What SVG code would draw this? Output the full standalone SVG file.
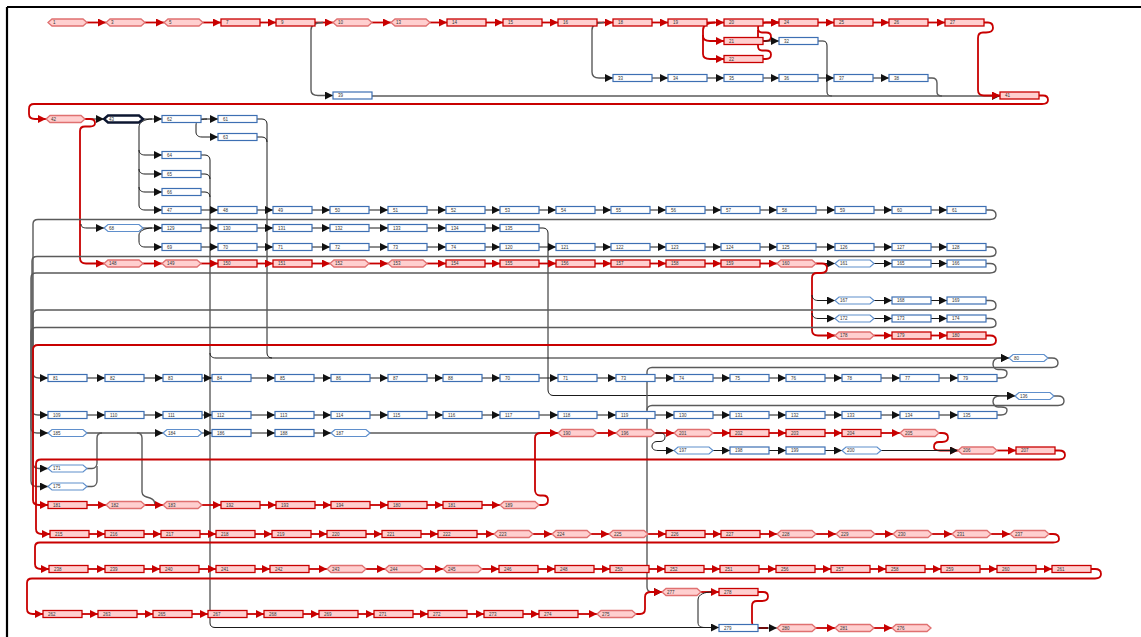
<svg xmlns="http://www.w3.org/2000/svg" width="1141" height="637" viewBox="0 0 1141 637">
<style>
.r{fill:#ffcfcf;stroke:#c80000;stroke-width:1.3}
.rh{fill:#ffcfcf;stroke:#e07070;stroke-width:1.3}
.b{fill:#fff;stroke:#3d6fb3;stroke-width:1.2}
.bh{fill:#fff;stroke:#5f8fcc;stroke-width:1.2}
.k{fill:#fff;stroke:#0c1630;stroke-width:2.4}
text{font-family:"Liberation Sans",Arial,sans-serif;font-size:4.5px;fill:#333}
.er{fill:none;stroke:#c80000;stroke-width:1.8;marker-end:url(#ar)}
.erx{fill:none;stroke:#c80000;stroke-width:1.8}
.ek{fill:none;stroke:#1a1a1a;stroke-width:1;marker-end:url(#ak)}
.ekx{fill:none;stroke:#1a1a1a;stroke-width:1}
.eg{fill:none;stroke:#5a5a5a;stroke-width:1.4;marker-end:url(#ak)}
.egx{fill:none;stroke:#5a5a5a;stroke-width:1.4}
</style>
<defs>
<rect id="R" width="39" height="7"/>
<polygon id="H" points="0,3.5 4,0 35,0 39,3.5 35,7 4,7"/>
<marker id="ak" viewBox="0 0 10 10" refX="10" refY="5" markerWidth="8" markerHeight="8" markerUnits="userSpaceOnUse" orient="auto"><path d="M0,0L10,5L0,10z" fill="#111"/></marker>
<marker id="ar" viewBox="0 0 10 10" refX="10" refY="5" markerWidth="8" markerHeight="8" markerUnits="userSpaceOnUse" orient="auto"><path d="M0,0L10,5L0,10z" fill="#c80000"/></marker>
</defs>
<rect width="1141" height="637" fill="#fff"/>
<path d="M7 7H1141M7 7V637" stroke="#000" stroke-width="2.2" fill="none"/>

<g id="connectors">
<path class="er" d="M87 22.5H106"/><path class="er" d="M145 22.5H164"/><path class="er" d="M203 22.5H221"/><path class="er" d="M260 22.5H276"/><path class="er" d="M315 22.5H333"/><path class="er" d="M372 22.5H391"/><path class="er" d="M430 22.5H447"/><path class="er" d="M486 22.5H503"/><path class="er" d="M542 22.5H558"/><path class="er" d="M597 22.5H613"/><path class="er" d="M652 22.5H668"/><path class="er" d="M707 22.5H724"/><path class="er" d="M763 22.5H779"/><path class="er" d="M818 22.5H834"/><path class="er" d="M873 22.5H889"/><path class="er" d="M928 22.5H945"/>
<path class="eg" d="M323 22.5C316 22.5 311 25 311 30V90C311 94 313 95.5 318 95.5H333"/>
<path class="eg" d="M604 22.5C597 22.5 592 25 592 30V72C592 76 594 78 599 78H613"/>
<path class="er" d="M715 22.5C708 22.5 703 25 703 30V36C703 39 705 41 710 41H724"/>
<path class="er" d="M703 35V54C703 57 705 59 710 59H724"/>
<path class="er" d="M762 41H766C770 41 771 39 771 36.5C771 34 769 32.5 766 32.5H762C759 32.5 758 30 758 28C758 24 761 22.5 766 22.5H779"/>
<path class="erx" d="M762 59H766C770 59 771 57 771 54.5C771 52 769 50.5 766 50.5H762C759 50.5 758 48 758 46V30"/>
<path class="ek" d="M762 41H779"/>
<path class="ek" d="M652 78H668"/><path class="ek" d="M707 78H724"/><path class="ek" d="M763 78H779"/><path class="ek" d="M818 78H834"/><path class="ek" d="M873 78H889"/>
<path class="egx" d="M928 78H932C935 78 937 80 937 83V92C937 95 939 96 942 96"/>
<path class="ekx" d="M818 41H823C826 41 827 43 827 46V92C827 95 829 96 832 96"/>
<path class="eg" d="M372 96H1000"/>
<path class="er" d="M984 22.5H988C992 22.5 993 25 993 28C993 31 990 32.5 986 32.5H983C980 32.5 978 34 978 38V90C978 94 980 95.5 984 95.5H1000"/>
<path class="er" d="M1039 95.5H1043C1047 95.5 1048 98 1048 100C1048 103 1046 104 1042 104H34C31 104 29 106 29 109V114C29 117 31 119 35 119H46"/>
<path class="ek" d="M85 119H104"/>
<path class="ek" d="M143 119H162"/>
<path class="ek" d="M201 119H218"/>
<path class="ek" d="M207 119C200 119 196 121 196 125V132C196 135 198 137 202 137H218"/>
<path class="ekx" d="M257 119H262C265 119 267 121 267 124V353C267 356 269 358 272 358"/>
<path class="ekx" d="M257 137H262C265 137 267 139 267 142"/>
<path class="ek" d="M152 119C145 119 139 122 139 127V205C139 208 141 210 145 210H162"/>
<path class="ek" d="M139 150C139 153 141 155 145 155H162"/>
<path class="ek" d="M139 169C139 172 141 174 145 174H162"/>
<path class="ek" d="M139 187C139 190 141 192 145 192H162"/>
<path class="ekx" d="M201 155H205C208 155 210 157 210 160V623C210 626 212 627.5 215 627.5"/>
<path class="ekx" d="M201 174H205C208 174 210 176 210 179"/>
<path class="ekx" d="M201 192H205C208 192 210 194 210 197"/>
<path class="ek" d="M210 353C210 356 212 358 216 358H1009"/>
<path class="ek" d="M215 627.5H719"/>
<path class="er" d="M85 119H90C94 119 95 121 95 123C95 125 93 126.5 90 126.5H85C82 126.5 80 128 80 131V258C80 261 82 263.5 86 263.5H104"/>
<path class="ek" d="M201 210H218"/><path class="ek" d="M257 210H273"/><path class="ek" d="M312 210H330"/><path class="ek" d="M369 210H388"/><path class="ek" d="M427 210H446"/><path class="ek" d="M485 210H500"/><path class="ek" d="M539 210H556"/><path class="ek" d="M595 210H611"/><path class="ek" d="M650 210H666"/><path class="ek" d="M705 210H721"/><path class="ek" d="M760 210H777"/><path class="ek" d="M816 210H835"/><path class="ek" d="M874 210H892"/><path class="ek" d="M931 210H947"/>
<path class="eg" d="M986 210H990C994 210 996 212 996 215C996 218 994 219.5 990 219.5H38C35 219.5 33 221 33 224V373C33 376 35 378 39 378H48"/>
<path class="ek" d="M81 224C81 227 83 228 87 228H104"/>
<path class="ek" d="M143 228H162"/>
<path class="ek" d="M152 228C145 228 139 231 139 235V241C139 245 141 247 145 247H162"/>
<path class="ek" d="M201 228H218"/><path class="ek" d="M257 228H273"/><path class="ek" d="M312 228H330"/><path class="ek" d="M369 228H388"/><path class="ek" d="M427 228H446"/><path class="ek" d="M485 228H500"/>
<path class="ek" d="M539 228H543C546 228 548 230 548 233V390C548 393 550 395.5 553 395.5H1015"/>
<path class="ek" d="M201 247H218"/><path class="ek" d="M257 247H273"/><path class="ek" d="M312 247H330"/><path class="ek" d="M369 247H388"/><path class="ek" d="M427 247H446"/><path class="ek" d="M485 247H500"/><path class="ek" d="M539 247H556"/><path class="ek" d="M595 247H611"/><path class="ek" d="M650 247H666"/><path class="ek" d="M705 247H721"/><path class="ek" d="M760 247H777"/><path class="ek" d="M816 247H835"/><path class="ek" d="M874 247H892"/><path class="ek" d="M931 247H947"/>
<path class="eg" d="M986 247H990C994 247 996 249 996 252C996 255 994 256.5 990 256.5H37C34 256.5 32 258 32 261V410C32 413 34 415 38 415H48"/>
<path class="er" d="M143 263.5H162"/><path class="er" d="M201 263.5H218"/><path class="er" d="M257 263.5H273"/><path class="er" d="M312 263.5H330"/><path class="er" d="M369 263.5H388"/><path class="er" d="M427 263.5H446"/><path class="er" d="M485 263.5H500"/><path class="er" d="M539 263.5H556"/><path class="er" d="M595 263.5H611"/><path class="er" d="M650 263.5H666"/><path class="er" d="M705 263.5H721"/><path class="er" d="M760 263.5H777"/>
<path class="ek" d="M816 263.5H835"/><path class="ek" d="M874 263.5H892"/><path class="ek" d="M931 263.5H947"/>
<path class="eg" d="M986 263.5H990C994 263.5 996 265.5 996 268.5C996 271.5 994 273 990 273H36C33 273 31 275 31 278V428C31 431 33 433 37 433H48"/>
<path class="er" d="M816 263.5H822C826 263.5 827 266 827 268C827 271 825 273 821 273H817C814 273 812 275 812 278V330C812 333 814 335.5 818 335.5H835"/>
<path class="ek" d="M812 295C812 298 814 300.5 818 300.5H835"/>
<path class="ek" d="M812 313C812 316 814 318.5 818 318.5H835"/>
<path class="ek" d="M874 300.5H892"/><path class="ek" d="M931 300.5H947"/>
<path class="eg" d="M986 300.5H990C994 300.5 996 302.5 996 305.5C996 308.5 994 310 990 310H38C35 310 33 312 33 315V463C33 466 35 468.5 39 468.5H48"/>
<path class="ek" d="M874 318.5H892"/><path class="ek" d="M931 318.5H947"/>
<path class="eg" d="M986 318.5H990C994 318.5 996 320.5 996 323.5C996 326.5 994 327.5 990 327.5H36C33 327.5 31 329 31 332V481C31 484 33 486.5 37 486.5H48"/>
<path class="er" d="M874 335.5H892"/><path class="er" d="M931 335.5H947"/>
<path class="er" d="M986 335.5H990C994 335.5 996 337.5 996 340.5C996 343.5 994 345 990 345H38C35 345 33 347 33 350V500C33 503 35 505 39 505H48"/>
<path class="egx" d="M1048 358H1052C1056 358 1058 360 1058 363C1058 366 1056 367.5 1052 367.5H652C649 367.5 647 369.5 647 372V587C647 590 649 592 652 592"/>
<path class="ek" d="M652 592H662"/>
<path class="egx" d="M1054 396H1058C1062 396 1064 398 1064 401C1064 404 1062 405.5 1058 405.5H652C649 405.5 647 407.5 647 410"/>
<path class="ek" d="M87 378H105"/><path class="ek" d="M144 378H163"/><path class="ek" d="M202 378H212"/><path class="ek" d="M251 378H275"/><path class="ek" d="M314 378H331"/><path class="ek" d="M370 378H388"/><path class="ek" d="M427 378H443"/><path class="ek" d="M482 378H500"/><path class="ek" d="M539 378H558"/><path class="ek" d="M597 378H616"/><path class="ek" d="M655 378H674"/><path class="ek" d="M713 378H730"/><path class="ek" d="M769 378H786"/><path class="ek" d="M825 378H842"/><path class="ek" d="M881 378H900"/><path class="ek" d="M939 378H958"/>
<path class="eg" d="M997 378H1001C1005 378 1007 376 1007 373C1007 371 1005 369.5 1001 369.5H998C995 369.5 993 367 993 364C993 360 995 358 1000 358H1009"/>
<path class="ek" d="M87 415H105"/><path class="ek" d="M144 415H163"/><path class="ek" d="M202 415H212"/><path class="ek" d="M251 415H275"/><path class="ek" d="M314 415H331"/><path class="ek" d="M370 415H388"/><path class="ek" d="M427 415H443"/><path class="ek" d="M482 415H500"/><path class="ek" d="M539 415H558"/><path class="ek" d="M597 415H616"/><path class="ek" d="M655 415H674"/><path class="ek" d="M713 415H730"/><path class="ek" d="M769 415H786"/><path class="ek" d="M825 415H842"/><path class="ek" d="M881 415H900"/><path class="ek" d="M939 415H958"/>
<path class="eg" d="M997 415H1001C1005 415 1007 413 1007 410C1007 408 1005 407 1001 407H998C995 407 993 404 993 401.5C993 398 995 396 1000 396H1015"/>
<path class="eg" d="M87 433H163"/>
<path class="egx" d="M87 468.5H92C95 468.5 97 466 97 463V438C97 435 99 433 102 433"/>
<path class="egx" d="M87 486.5H92C95 486.5 97 484 97 481V466"/>
<path class="egx" d="M137 433C140 433 142 435 142 438V492C142 496 146 497 150 498C153 499 155 501 155 505"/>
<path class="ek" d="M202 433H212"/><path class="ek" d="M251 433H275"/><path class="ek" d="M314 433H331"/>
<path class="egx" d="M370 433H540"/>
<path class="er" d="M539 505H543C547 505 548 503 548 500C548 497 546 495.5 543 495.5H540C537 495.5 535 493 535 490V438C535 435 537 433 541 433H558"/>
<path class="er" d="M597 433H616"/><path class="er" d="M655 433H674"/><path class="er" d="M713 433H730"/><path class="er" d="M769 433H786"/><path class="er" d="M825 433H842"/><path class="er" d="M881 433H900"/>
<path class="er" d="M938 433H942C946 433 948 435 948 437.5C948 440.5 946 442 942 442H939C936 442 934 444 934 447C934 449 936 450.5 940 450.5H958"/>
<path class="ek" d="M655 433H660C664 433 665 435 665 437C665 440 663 441.5 660 441.5H657C654 441.5 652 443.5 652 446C652 449 654 450.5 658 450.5H674"/>
<path class="ek" d="M713 450.5H730"/><path class="ek" d="M769 450.5H786"/><path class="ek" d="M825 450.5H842"/>
<path class="ek" d="M881 450.5H958"/>
<path class="er" d="M997 450.5H1016"/>
<path class="er" d="M1055 450.5H1059C1063 450.5 1065 452.5 1065 455C1065 458 1063 459.5 1059 459.5H41C38 459.5 36 461 36 464V529C36 532 38 534 42 534H50"/>
<path class="er" d="M87 505H106"/><path class="er" d="M145 505H163"/><path class="er" d="M202 505H221"/><path class="er" d="M260 505H276"/><path class="er" d="M315 505H331"/><path class="er" d="M370 505H388"/><path class="er" d="M427 505H443"/><path class="er" d="M482 505H500"/>
<path class="er" d="M89 534H105"/><path class="er" d="M144 534H161"/><path class="er" d="M200 534H216"/><path class="er" d="M255 534H272"/><path class="er" d="M311 534H327"/><path class="er" d="M366 534H382"/><path class="er" d="M421 534H438"/><path class="er" d="M477 534H494"/><path class="er" d="M533 534H552"/><path class="er" d="M591 534H609"/><path class="er" d="M648 534H666"/><path class="er" d="M705 534H721"/><path class="er" d="M760 534H777"/><path class="er" d="M816 534H836"/><path class="er" d="M875 534H893"/><path class="er" d="M932 534H952"/><path class="er" d="M991 534H1010"/>
<path class="er" d="M1049 534H1053C1057 534 1059 536 1059 539C1059 541 1057 542.5 1053 542.5H40C37 542.5 35 544 35 547V564C35 567 37 569 41 569H49"/>
<path class="er" d="M88 569H105"/><path class="er" d="M144 569H160"/><path class="er" d="M199 569H216"/><path class="er" d="M255 569H270"/><path class="er" d="M309 569H327"/><path class="er" d="M366 569H385"/><path class="er" d="M424 569H443"/><path class="er" d="M482 569H499"/><path class="er" d="M538 569H555"/><path class="er" d="M594 569H610"/><path class="er" d="M649 569H665"/><path class="er" d="M704 569H720"/><path class="er" d="M759 569H776"/><path class="er" d="M815 569H831"/><path class="er" d="M870 569H886"/><path class="er" d="M925 569H941"/><path class="er" d="M980 569H997"/><path class="er" d="M1036 569H1052"/>
<path class="er" d="M1091 569H1095C1099 569 1101 571 1101 574C1101 577 1099 578.5 1095 578.5H32C29 578.5 27 580 27 583V609C27 612 29 614 33 614H43"/>
<path class="er" d="M82 614H98"/><path class="er" d="M137 614H153"/><path class="er" d="M192 614H208"/><path class="er" d="M247 614H264"/><path class="er" d="M303 614H319"/><path class="er" d="M358 614H374"/><path class="er" d="M413 614H428"/><path class="er" d="M467 614H484"/><path class="er" d="M523 614H539"/><path class="er" d="M578 614H597"/>
<path class="er" d="M636 614H640C643 614 645 612 645 609V597C645 594 647 592 651 592H662"/>
<path class="er" d="M701 592H719"/>
<path class="ekx" d="M712 592C705 592 698 594 698 600V622C698 626 700 627.5 705 627.5"/>
<path class="erx" d="M758 592H763C767 592 768 594 768 596.5C768 599.5 766 601 762 601H757C754 601 752 603 752 606V622C752 625 754 628 758 628H768"/>
<path class="ek" d="M758 628H777"/>
<path class="er" d="M816 628H835"/><path class="er" d="M874 628H892"/>
</g>

<g id="n1"><use href="#H" class="rh" x="48" y="19"/><text x="53" y="24">1</text></g>
<g id="n3"><use href="#H" class="rh" x="106" y="19"/><text x="111" y="24">3</text></g>
<g id="n5"><use href="#H" class="rh" x="164" y="19"/><text x="169" y="24">5</text></g>
<g id="n7"><use href="#R" class="r" x="221" y="19"/><text x="226" y="24">7</text></g>
<g id="n9"><use href="#R" class="r" x="276" y="19"/><text x="281" y="24">9</text></g>
<g id="n10"><use href="#H" class="rh" x="333" y="19"/><text x="338" y="24">10</text></g>
<g id="n13"><use href="#H" class="rh" x="391" y="19"/><text x="396" y="24">13</text></g>
<g id="n14"><use href="#R" class="r" x="447" y="19"/><text x="452" y="24">14</text></g>
<g id="n15"><use href="#R" class="r" x="503" y="19"/><text x="508" y="24">15</text></g>
<g id="n16"><use href="#R" class="r" x="558" y="19"/><text x="563" y="24">16</text></g>
<g id="n18"><use href="#R" class="r" x="613" y="19"/><text x="618" y="24">18</text></g>
<g id="n19"><use href="#R" class="r" x="668" y="19"/><text x="673" y="24">19</text></g>
<g id="n20"><use href="#R" class="r" x="724" y="19"/><text x="729" y="24">20</text></g>
<g id="n24"><use href="#R" class="r" x="779" y="19"/><text x="784" y="24">24</text></g>
<g id="n25"><use href="#R" class="r" x="834" y="19"/><text x="839" y="24">25</text></g>
<g id="n26"><use href="#R" class="r" x="889" y="19"/><text x="894" y="24">26</text></g>
<g id="n27"><use href="#R" class="r" x="945" y="19"/><text x="950" y="24">27</text></g>
<g id="n21"><use href="#R" class="r" x="724" y="37.5"/><text x="729" y="42.5">21</text></g>
<g id="n32"><use href="#R" class="b" x="779" y="37.5"/><text x="784" y="42.5">32</text></g>
<g id="n22"><use href="#R" class="r" x="724" y="55.5"/><text x="729" y="60.5">22</text></g>
<g id="n33"><use href="#R" class="b" x="613" y="74.5"/><text x="618" y="79.5">33</text></g>
<g id="n34"><use href="#R" class="b" x="668" y="74.5"/><text x="673" y="79.5">34</text></g>
<g id="n35"><use href="#R" class="b" x="724" y="74.5"/><text x="729" y="79.5">35</text></g>
<g id="n36"><use href="#R" class="b" x="779" y="74.5"/><text x="784" y="79.5">36</text></g>
<g id="n37"><use href="#R" class="b" x="834" y="74.5"/><text x="839" y="79.5">37</text></g>
<g id="n38"><use href="#R" class="b" x="889" y="74.5"/><text x="894" y="79.5">38</text></g>
<g id="n39"><use href="#R" class="b" x="333" y="92"/><text x="338" y="97">39</text></g>
<g id="n41"><use href="#R" class="r" x="1000" y="92"/><text x="1005" y="97">41</text></g>
<g id="n42"><use href="#H" class="rh" x="46" y="115.5"/><text x="51" y="120.5">42</text></g>
<g id="n43"><use href="#H" class="k" x="104" y="115.5"/><text x="109" y="120.5">43</text></g>
<g id="n62"><use href="#R" class="b" x="162" y="115.5"/><text x="167" y="120.5">62</text></g>
<g id="n61"><use href="#R" class="b" x="218" y="115.5"/><text x="223" y="120.5">61</text></g>
<g id="n63"><use href="#R" class="b" x="218" y="133.5"/><text x="223" y="138.5">63</text></g>
<g id="n64"><use href="#R" class="b" x="162" y="151.5"/><text x="167" y="156.5">64</text></g>
<g id="n65"><use href="#R" class="b" x="162" y="170.5"/><text x="167" y="175.5">65</text></g>
<g id="n66"><use href="#R" class="b" x="162" y="188.5"/><text x="167" y="193.5">66</text></g>
<g id="n47"><use href="#R" class="b" x="162" y="206.5"/><text x="167" y="211.5">47</text></g>
<g id="n48"><use href="#R" class="b" x="218" y="206.5"/><text x="223" y="211.5">48</text></g>
<g id="n49"><use href="#R" class="b" x="273" y="206.5"/><text x="278" y="211.5">49</text></g>
<g id="n50"><use href="#R" class="b" x="330" y="206.5"/><text x="335" y="211.5">50</text></g>
<g id="n51"><use href="#R" class="b" x="388" y="206.5"/><text x="393" y="211.5">51</text></g>
<g id="n52"><use href="#R" class="b" x="446" y="206.5"/><text x="451" y="211.5">52</text></g>
<g id="n53"><use href="#R" class="b" x="500" y="206.5"/><text x="505" y="211.5">53</text></g>
<g id="n54"><use href="#R" class="b" x="556" y="206.5"/><text x="561" y="211.5">54</text></g>
<g id="n55"><use href="#R" class="b" x="611" y="206.5"/><text x="616" y="211.5">55</text></g>
<g id="n56"><use href="#R" class="b" x="666" y="206.5"/><text x="671" y="211.5">56</text></g>
<g id="n57"><use href="#R" class="b" x="721" y="206.5"/><text x="726" y="211.5">57</text></g>
<g id="n58"><use href="#R" class="b" x="777" y="206.5"/><text x="782" y="211.5">58</text></g>
<g id="n59"><use href="#R" class="b" x="835" y="206.5"/><text x="840" y="211.5">59</text></g>
<g id="n60"><use href="#R" class="b" x="892" y="206.5"/><text x="897" y="211.5">60</text></g>
<g id="n67"><use href="#R" class="b" x="947" y="206.5"/><text x="952" y="211.5">61</text></g>
<g id="n68"><use href="#H" class="bh" x="104" y="224.5"/><text x="109" y="229.5">68</text></g>
<g id="n129"><use href="#R" class="b" x="162" y="224.5"/><text x="167" y="229.5">129</text></g>
<g id="n130"><use href="#R" class="b" x="218" y="224.5"/><text x="223" y="229.5">130</text></g>
<g id="n131"><use href="#R" class="b" x="273" y="224.5"/><text x="278" y="229.5">131</text></g>
<g id="n132"><use href="#R" class="b" x="330" y="224.5"/><text x="335" y="229.5">132</text></g>
<g id="n133"><use href="#R" class="b" x="388" y="224.5"/><text x="393" y="229.5">133</text></g>
<g id="n134"><use href="#R" class="b" x="446" y="224.5"/><text x="451" y="229.5">134</text></g>
<g id="n135"><use href="#R" class="b" x="500" y="224.5"/><text x="505" y="229.5">135</text></g>
<g id="n69"><use href="#R" class="b" x="162" y="243.5"/><text x="167" y="248.5">69</text></g>
<g id="n70"><use href="#R" class="b" x="218" y="243.5"/><text x="223" y="248.5">70</text></g>
<g id="n71"><use href="#R" class="b" x="273" y="243.5"/><text x="278" y="248.5">71</text></g>
<g id="n72"><use href="#R" class="b" x="330" y="243.5"/><text x="335" y="248.5">72</text></g>
<g id="n73"><use href="#R" class="b" x="388" y="243.5"/><text x="393" y="248.5">73</text></g>
<g id="n74"><use href="#R" class="b" x="446" y="243.5"/><text x="451" y="248.5">74</text></g>
<g id="n75"><use href="#R" class="b" x="500" y="243.5"/><text x="505" y="248.5">120</text></g>
<g id="n121"><use href="#R" class="b" x="556" y="243.5"/><text x="561" y="248.5">121</text></g>
<g id="n122"><use href="#R" class="b" x="611" y="243.5"/><text x="616" y="248.5">122</text></g>
<g id="n123"><use href="#R" class="b" x="666" y="243.5"/><text x="671" y="248.5">123</text></g>
<g id="n124"><use href="#R" class="b" x="721" y="243.5"/><text x="726" y="248.5">124</text></g>
<g id="n125"><use href="#R" class="b" x="777" y="243.5"/><text x="782" y="248.5">125</text></g>
<g id="n126"><use href="#R" class="b" x="835" y="243.5"/><text x="840" y="248.5">126</text></g>
<g id="n127"><use href="#R" class="b" x="892" y="243.5"/><text x="897" y="248.5">127</text></g>
<g id="n128"><use href="#R" class="b" x="947" y="243.5"/><text x="952" y="248.5">128</text></g>
<g id="n148"><use href="#H" class="rh" x="104" y="260"/><text x="109" y="265">148</text></g>
<g id="n149"><use href="#H" class="rh" x="162" y="260"/><text x="167" y="265">149</text></g>
<g id="n150"><use href="#R" class="r" x="218" y="260"/><text x="223" y="265">150</text></g>
<g id="n151"><use href="#R" class="r" x="273" y="260"/><text x="278" y="265">151</text></g>
<g id="n152"><use href="#H" class="rh" x="330" y="260"/><text x="335" y="265">152</text></g>
<g id="n153"><use href="#H" class="rh" x="388" y="260"/><text x="393" y="265">153</text></g>
<g id="n154"><use href="#R" class="r" x="446" y="260"/><text x="451" y="265">154</text></g>
<g id="n155"><use href="#R" class="r" x="500" y="260"/><text x="505" y="265">155</text></g>
<g id="n156"><use href="#R" class="r" x="556" y="260"/><text x="561" y="265">156</text></g>
<g id="n157"><use href="#R" class="r" x="611" y="260"/><text x="616" y="265">157</text></g>
<g id="n158"><use href="#R" class="r" x="666" y="260"/><text x="671" y="265">158</text></g>
<g id="n159"><use href="#R" class="r" x="721" y="260"/><text x="726" y="265">159</text></g>
<g id="n160"><use href="#H" class="rh" x="777" y="260"/><text x="782" y="265">160</text></g>
<g id="n161"><use href="#H" class="bh" x="835" y="260"/><text x="840" y="265">161</text></g>
<g id="n165"><use href="#R" class="b" x="892" y="260"/><text x="897" y="265">165</text></g>
<g id="n166"><use href="#R" class="b" x="947" y="260"/><text x="952" y="265">166</text></g>
<g id="n167"><use href="#H" class="bh" x="835" y="297"/><text x="840" y="302">167</text></g>
<g id="n168"><use href="#R" class="b" x="892" y="297"/><text x="897" y="302">168</text></g>
<g id="n169"><use href="#R" class="b" x="947" y="297"/><text x="952" y="302">169</text></g>
<g id="n172"><use href="#H" class="bh" x="835" y="315"/><text x="840" y="320">172</text></g>
<g id="n173"><use href="#R" class="b" x="892" y="315"/><text x="897" y="320">173</text></g>
<g id="n174"><use href="#R" class="b" x="947" y="315"/><text x="952" y="320">174</text></g>
<g id="n178"><use href="#H" class="rh" x="835" y="332"/><text x="840" y="337">178</text></g>
<g id="n179"><use href="#R" class="r" x="892" y="332"/><text x="897" y="337">179</text></g>
<g id="n180"><use href="#R" class="r" x="947" y="332"/><text x="952" y="337">180</text></g>
<g id="n80"><use href="#H" class="bh" x="1009" y="354.5"/><text x="1014" y="359.5">80</text></g>
<g id="n81"><use href="#R" class="b" x="48" y="374.5"/><text x="53" y="379.5">81</text></g>
<g id="n82"><use href="#R" class="b" x="105" y="374.5"/><text x="110" y="379.5">82</text></g>
<g id="n83"><use href="#R" class="b" x="163" y="374.5"/><text x="168" y="379.5">83</text></g>
<g id="n84"><use href="#R" class="b" x="212" y="374.5"/><text x="217" y="379.5">84</text></g>
<g id="n85"><use href="#R" class="b" x="275" y="374.5"/><text x="280" y="379.5">85</text></g>
<g id="n86"><use href="#R" class="b" x="331" y="374.5"/><text x="336" y="379.5">86</text></g>
<g id="n87"><use href="#R" class="b" x="388" y="374.5"/><text x="393" y="379.5">87</text></g>
<g id="n88"><use href="#R" class="b" x="443" y="374.5"/><text x="448" y="379.5">88</text></g>
<g id="n89"><use href="#R" class="b" x="500" y="374.5"/><text x="505" y="379.5">70</text></g>
<g id="n90"><use href="#R" class="b" x="558" y="374.5"/><text x="563" y="379.5">71</text></g>
<g id="n91"><use href="#R" class="b" x="616" y="374.5"/><text x="621" y="379.5">73</text></g>
<g id="n92"><use href="#R" class="b" x="674" y="374.5"/><text x="679" y="379.5">74</text></g>
<g id="n93"><use href="#R" class="b" x="730" y="374.5"/><text x="735" y="379.5">75</text></g>
<g id="n94"><use href="#R" class="b" x="786" y="374.5"/><text x="791" y="379.5">76</text></g>
<g id="n95"><use href="#R" class="b" x="842" y="374.5"/><text x="847" y="379.5">78</text></g>
<g id="n96"><use href="#R" class="b" x="900" y="374.5"/><text x="905" y="379.5">77</text></g>
<g id="n97"><use href="#R" class="b" x="958" y="374.5"/><text x="963" y="379.5">79</text></g>
<g id="n136"><use href="#H" class="bh" x="1015" y="392.5"/><text x="1020" y="397.5">136</text></g>
<g id="n109"><use href="#R" class="b" x="48" y="411.5"/><text x="53" y="416.5">109</text></g>
<g id="n110"><use href="#R" class="b" x="105" y="411.5"/><text x="110" y="416.5">110</text></g>
<g id="n111"><use href="#R" class="b" x="163" y="411.5"/><text x="168" y="416.5">111</text></g>
<g id="n112"><use href="#R" class="b" x="212" y="411.5"/><text x="217" y="416.5">112</text></g>
<g id="n113"><use href="#R" class="b" x="275" y="411.5"/><text x="280" y="416.5">113</text></g>
<g id="n114"><use href="#R" class="b" x="331" y="411.5"/><text x="336" y="416.5">114</text></g>
<g id="n115"><use href="#R" class="b" x="388" y="411.5"/><text x="393" y="416.5">115</text></g>
<g id="n116"><use href="#R" class="b" x="443" y="411.5"/><text x="448" y="416.5">116</text></g>
<g id="n117"><use href="#R" class="b" x="500" y="411.5"/><text x="505" y="416.5">117</text></g>
<g id="n118"><use href="#R" class="b" x="558" y="411.5"/><text x="563" y="416.5">118</text></g>
<g id="n119"><use href="#R" class="b" x="616" y="411.5"/><text x="621" y="416.5">119</text></g>
<g id="n120"><use href="#R" class="b" x="674" y="411.5"/><text x="679" y="416.5">130</text></g>
<g id="n137"><use href="#R" class="b" x="730" y="411.5"/><text x="735" y="416.5">131</text></g>
<g id="n138"><use href="#R" class="b" x="786" y="411.5"/><text x="791" y="416.5">132</text></g>
<g id="n139"><use href="#R" class="b" x="842" y="411.5"/><text x="847" y="416.5">133</text></g>
<g id="n140"><use href="#R" class="b" x="900" y="411.5"/><text x="905" y="416.5">134</text></g>
<g id="n141"><use href="#R" class="b" x="958" y="411.5"/><text x="963" y="416.5">135</text></g>
<g id="n185"><use href="#H" class="bh" x="48" y="429.5"/><text x="53" y="434.5">185</text></g>
<g id="n184"><use href="#H" class="bh" x="163" y="429.5"/><text x="168" y="434.5">184</text></g>
<g id="n186"><use href="#R" class="b" x="212" y="429.5"/><text x="217" y="434.5">186</text></g>
<g id="n187"><use href="#R" class="b" x="275" y="429.5"/><text x="280" y="434.5">188</text></g>
<g id="n188"><use href="#H" class="bh" x="331" y="429.5"/><text x="336" y="434.5">187</text></g>
<g id="n189"><use href="#H" class="rh" x="558" y="429.5"/><text x="563" y="434.5">190</text></g>
<g id="n190"><use href="#H" class="rh" x="616" y="429.5"/><text x="621" y="434.5">196</text></g>
<g id="n191"><use href="#H" class="rh" x="674" y="429.5"/><text x="679" y="434.5">201</text></g>
<g id="n192"><use href="#R" class="r" x="730" y="429.5"/><text x="735" y="434.5">202</text></g>
<g id="n193"><use href="#R" class="r" x="786" y="429.5"/><text x="791" y="434.5">203</text></g>
<g id="n194"><use href="#R" class="r" x="842" y="429.5"/><text x="847" y="434.5">204</text></g>
<g id="n195"><use href="#H" class="rh" x="900" y="429.5"/><text x="905" y="434.5">205</text></g>
<g id="n197"><use href="#H" class="bh" x="674" y="447"/><text x="679" y="452">197</text></g>
<g id="n198"><use href="#R" class="b" x="730" y="447"/><text x="735" y="452">198</text></g>
<g id="n199"><use href="#R" class="b" x="786" y="447"/><text x="791" y="452">199</text></g>
<g id="n200"><use href="#H" class="bh" x="842" y="447"/><text x="847" y="452">200</text></g>
<g id="n206"><use href="#H" class="rh" x="958" y="447"/><text x="963" y="452">206</text></g>
<g id="n207"><use href="#R" class="r" x="1016" y="447"/><text x="1021" y="452">207</text></g>
<g id="n171"><use href="#H" class="bh" x="48" y="465"/><text x="53" y="470">171</text></g>
<g id="n175"><use href="#H" class="bh" x="48" y="483"/><text x="53" y="488">175</text></g>
<g id="n181"><use href="#R" class="r" x="48" y="501.5"/><text x="53" y="506.5">181</text></g>
<g id="n182"><use href="#H" class="rh" x="106" y="501.5"/><text x="111" y="506.5">182</text></g>
<g id="n183"><use href="#H" class="rh" x="163" y="501.5"/><text x="168" y="506.5">183</text></g>
<g id="n208"><use href="#R" class="r" x="221" y="501.5"/><text x="226" y="506.5">192</text></g>
<g id="n209"><use href="#R" class="r" x="276" y="501.5"/><text x="281" y="506.5">193</text></g>
<g id="n210"><use href="#R" class="r" x="331" y="501.5"/><text x="336" y="506.5">194</text></g>
<g id="n211"><use href="#R" class="r" x="388" y="501.5"/><text x="393" y="506.5">180</text></g>
<g id="n212"><use href="#R" class="r" x="443" y="501.5"/><text x="448" y="506.5">181</text></g>
<g id="n213"><use href="#H" class="rh" x="500" y="501.5"/><text x="505" y="506.5">189</text></g>
<g id="n215"><use href="#R" class="r" x="50" y="530.5"/><text x="55" y="535.5">215</text></g>
<g id="n216"><use href="#R" class="r" x="105" y="530.5"/><text x="110" y="535.5">216</text></g>
<g id="n217"><use href="#R" class="r" x="161" y="530.5"/><text x="166" y="535.5">217</text></g>
<g id="n218"><use href="#R" class="r" x="216" y="530.5"/><text x="221" y="535.5">218</text></g>
<g id="n219"><use href="#R" class="r" x="272" y="530.5"/><text x="277" y="535.5">219</text></g>
<g id="n220"><use href="#R" class="r" x="327" y="530.5"/><text x="332" y="535.5">220</text></g>
<g id="n221"><use href="#R" class="r" x="382" y="530.5"/><text x="387" y="535.5">221</text></g>
<g id="n222"><use href="#R" class="r" x="438" y="530.5"/><text x="443" y="535.5">222</text></g>
<g id="n223"><use href="#H" class="rh" x="494" y="530.5"/><text x="499" y="535.5">223</text></g>
<g id="n224"><use href="#H" class="rh" x="552" y="530.5"/><text x="557" y="535.5">224</text></g>
<g id="n225"><use href="#H" class="rh" x="609" y="530.5"/><text x="614" y="535.5">225</text></g>
<g id="n226"><use href="#R" class="r" x="666" y="530.5"/><text x="671" y="535.5">226</text></g>
<g id="n227"><use href="#R" class="r" x="721" y="530.5"/><text x="726" y="535.5">227</text></g>
<g id="n228"><use href="#H" class="rh" x="777" y="530.5"/><text x="782" y="535.5">228</text></g>
<g id="n229"><use href="#H" class="rh" x="836" y="530.5"/><text x="841" y="535.5">229</text></g>
<g id="n230"><use href="#H" class="rh" x="893" y="530.5"/><text x="898" y="535.5">230</text></g>
<g id="n231"><use href="#H" class="rh" x="952" y="530.5"/><text x="957" y="535.5">231</text></g>
<g id="n232"><use href="#H" class="rh" x="1010" y="530.5"/><text x="1015" y="535.5">237</text></g>
<g id="n233"><use href="#R" class="r" x="49" y="565.5"/><text x="54" y="570.5">238</text></g>
<g id="n234"><use href="#R" class="r" x="105" y="565.5"/><text x="110" y="570.5">239</text></g>
<g id="n235"><use href="#R" class="r" x="160" y="565.5"/><text x="165" y="570.5">240</text></g>
<g id="n236"><use href="#R" class="r" x="216" y="565.5"/><text x="221" y="570.5">241</text></g>
<g id="n237"><use href="#R" class="r" x="270" y="565.5"/><text x="275" y="570.5">242</text></g>
<g id="n238"><use href="#H" class="rh" x="327" y="565.5"/><text x="332" y="570.5">243</text></g>
<g id="n239"><use href="#H" class="rh" x="385" y="565.5"/><text x="390" y="570.5">244</text></g>
<g id="n240"><use href="#H" class="rh" x="443" y="565.5"/><text x="448" y="570.5">245</text></g>
<g id="n241"><use href="#R" class="r" x="499" y="565.5"/><text x="504" y="570.5">246</text></g>
<g id="n242"><use href="#R" class="r" x="555" y="565.5"/><text x="560" y="570.5">248</text></g>
<g id="n243"><use href="#R" class="r" x="610" y="565.5"/><text x="615" y="570.5">250</text></g>
<g id="n244"><use href="#R" class="r" x="665" y="565.5"/><text x="670" y="570.5">252</text></g>
<g id="n245"><use href="#R" class="r" x="720" y="565.5"/><text x="725" y="570.5">251</text></g>
<g id="n246"><use href="#R" class="r" x="776" y="565.5"/><text x="781" y="570.5">256</text></g>
<g id="n247"><use href="#R" class="r" x="831" y="565.5"/><text x="836" y="570.5">257</text></g>
<g id="n248"><use href="#R" class="r" x="886" y="565.5"/><text x="891" y="570.5">258</text></g>
<g id="n249"><use href="#R" class="r" x="941" y="565.5"/><text x="946" y="570.5">259</text></g>
<g id="n250"><use href="#R" class="r" x="997" y="565.5"/><text x="1002" y="570.5">260</text></g>
<g id="n251"><use href="#R" class="r" x="1052" y="565.5"/><text x="1057" y="570.5">261</text></g>
<g id="n260"><use href="#R" class="r" x="43" y="610.5"/><text x="48" y="615.5">262</text></g>
<g id="n261"><use href="#R" class="r" x="98" y="610.5"/><text x="103" y="615.5">263</text></g>
<g id="n262"><use href="#R" class="r" x="153" y="610.5"/><text x="158" y="615.5">265</text></g>
<g id="n263"><use href="#R" class="r" x="208" y="610.5"/><text x="213" y="615.5">267</text></g>
<g id="n264"><use href="#R" class="r" x="264" y="610.5"/><text x="269" y="615.5">268</text></g>
<g id="n265"><use href="#R" class="r" x="319" y="610.5"/><text x="324" y="615.5">269</text></g>
<g id="n266"><use href="#R" class="r" x="374" y="610.5"/><text x="379" y="615.5">271</text></g>
<g id="n267"><use href="#R" class="r" x="428" y="610.5"/><text x="433" y="615.5">272</text></g>
<g id="n268"><use href="#R" class="r" x="484" y="610.5"/><text x="489" y="615.5">273</text></g>
<g id="n269"><use href="#R" class="r" x="539" y="610.5"/><text x="544" y="615.5">274</text></g>
<g id="n270"><use href="#H" class="rh" x="597" y="610.5"/><text x="602" y="615.5">275</text></g>
<g id="n277"><use href="#H" class="rh" x="662" y="588.5"/><text x="667" y="593.5">277</text></g>
<g id="n278"><use href="#R" class="r" x="719" y="588.5"/><text x="724" y="593.5">278</text></g>
<g id="n279"><use href="#R" class="b" x="719" y="624.5"/><text x="724" y="629.5">279</text></g>
<g id="n280"><use href="#H" class="rh" x="777" y="624.5"/><text x="782" y="629.5">280</text></g>
<g id="n281"><use href="#H" class="rh" x="835" y="624.5"/><text x="840" y="629.5">281</text></g>
<g id="n276"><use href="#H" class="rh" x="892" y="624.5"/><text x="897" y="629.5">276</text></g>
</svg>
